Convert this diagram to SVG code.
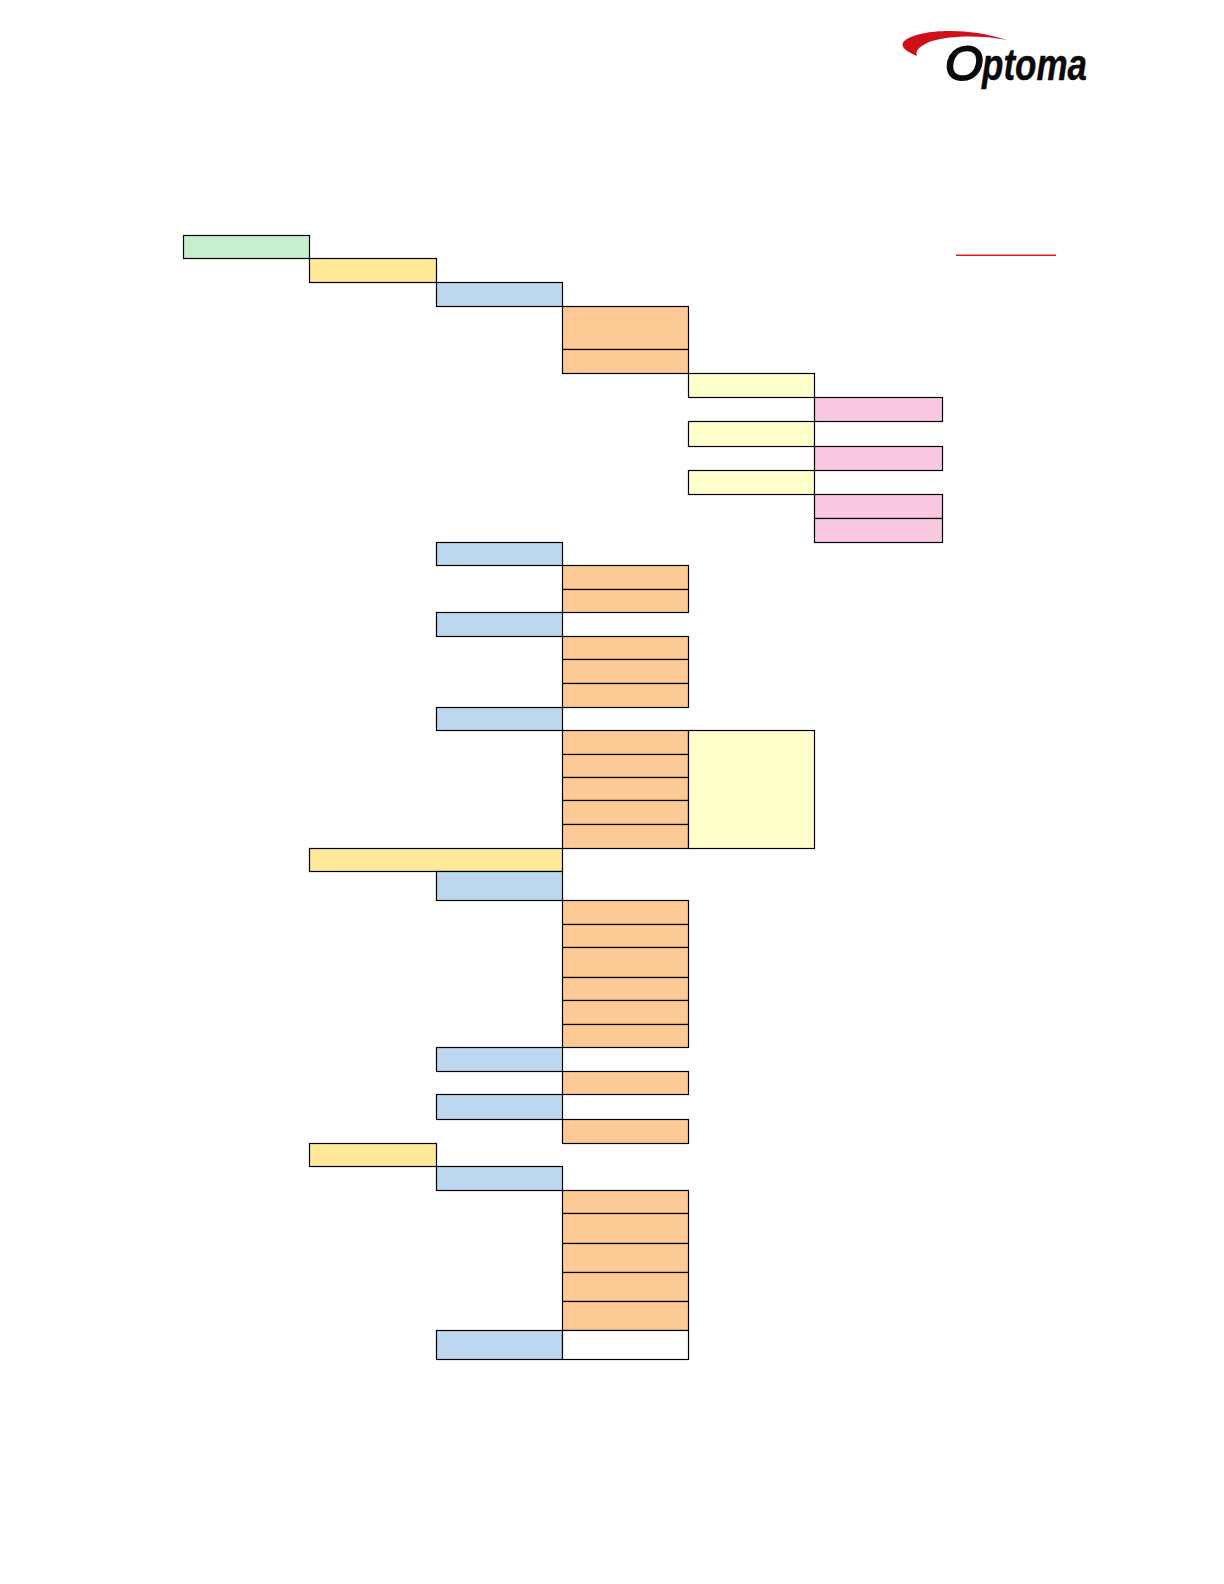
<svg xmlns="http://www.w3.org/2000/svg" width="1224" height="1584" viewBox="0 0 1224 1584">
<style>
rect{stroke:#000;stroke-width:1.2}
.gn{fill:#c6efce}.yl{fill:#ffe999}.bl{fill:#bdd7ee}.or{fill:#fdca96}.ly{fill:#ffffcc}.pk{fill:#f9c8e1}.wh{fill:#fff}
.logo{font-family:"Liberation Sans",Arial,sans-serif;font-style:italic;fill:#0a0a0a;stroke:#0a0a0a}
</style>
<rect x="0" y="0" width="1224" height="1584" style="fill:#fff;stroke:none"/>
<g id="logo">
<path d="M1006.700 40C985 33 965 30.500 946 31C925 31.500 908 36 903 42.500C900.500 47 907 52 917 56C914.500 50 921 45 932 41C952 35.500 980 35 1006.700 40Z" fill="#d01018"/>
<text class="logo" x="945" y="79.500" font-size="49" stroke-width="2">O</text>
<text class="logo" x="982" y="79.500" font-size="44" font-weight="700" stroke-width=".4" textLength="105" lengthAdjust="spacingAndGlyphs">ptoma</text>
</g>
<line id="red-rule" x1="956" y1="255.300" x2="1056" y2="255.300" stroke="#d9201c" stroke-width="1.4"/>
<g id="n1"><rect class="gn" x="183.500" y="235.500" width="126" height="23"/></g>
<g id="n2"><rect class="yl" x="309.500" y="258.500" width="127" height="24"/></g>
<g id="n3"><rect class="bl" x="436.500" y="282.500" width="126" height="24"/></g>
<g id="n4"><rect class="or" x="562.500" y="306.500" width="126" height="43"/></g>
<g id="n5"><rect class="or" x="562.500" y="349.500" width="126" height="24"/></g>
<g id="n6"><rect class="ly" x="688.500" y="373.500" width="126" height="24"/></g>
<g id="n7"><rect class="pk" x="814.500" y="397.500" width="128" height="24"/></g>
<g id="n8"><rect class="ly" x="688.500" y="421.500" width="126" height="25"/></g>
<g id="n9"><rect class="pk" x="814.500" y="446.500" width="128" height="24"/></g>
<g id="n10"><rect class="ly" x="688.500" y="470.500" width="126" height="24"/></g>
<g id="n11"><rect class="pk" x="814.500" y="494.500" width="128" height="24"/></g>
<g id="n12"><rect class="pk" x="814.500" y="518.500" width="128" height="24"/></g>
<g id="n13"><rect class="bl" x="436.500" y="542.500" width="126" height="23"/></g>
<g id="n14"><rect class="or" x="562.500" y="565.500" width="126" height="24"/></g>
<g id="n15"><rect class="or" x="562.500" y="589.500" width="126" height="23"/></g>
<g id="n16"><rect class="bl" x="436.500" y="612.500" width="126" height="24"/></g>
<g id="n17"><rect class="or" x="562.500" y="636.500" width="126" height="23"/></g>
<g id="n18"><rect class="or" x="562.500" y="659.500" width="126" height="24"/></g>
<g id="n19"><rect class="or" x="562.500" y="683.500" width="126" height="24"/></g>
<g id="n20"><rect class="bl" x="436.500" y="707.500" width="126" height="23"/></g>
<g id="n21"><rect class="or" x="562.500" y="730.500" width="126" height="24"/></g>
<g id="n22"><rect class="or" x="562.500" y="754.500" width="126" height="23"/></g>
<g id="n23"><rect class="or" x="562.500" y="777.500" width="126" height="23"/></g>
<g id="n24"><rect class="or" x="562.500" y="800.500" width="126" height="24"/></g>
<g id="n25"><rect class="or" x="562.500" y="824.500" width="126" height="24"/></g>
<g id="n26"><rect class="ly" x="688.500" y="730.500" width="126" height="118"/></g>
<g id="n27"><rect class="yl" x="309.500" y="848.500" width="253" height="23"/></g>
<g id="n28"><rect class="bl" x="436.500" y="871.500" width="126" height="29"/></g>
<g id="n29"><rect class="or" x="562.500" y="900.500" width="126" height="24"/></g>
<g id="n30"><rect class="or" x="562.500" y="924.500" width="126" height="23"/></g>
<g id="n31"><rect class="or" x="562.500" y="947.500" width="126" height="30"/></g>
<g id="n32"><rect class="or" x="562.500" y="977.500" width="126" height="23"/></g>
<g id="n33"><rect class="or" x="562.500" y="1000.500" width="126" height="24"/></g>
<g id="n34"><rect class="or" x="562.500" y="1024.500" width="126" height="23"/></g>
<g id="n35"><rect class="bl" x="436.500" y="1047.500" width="126" height="24"/></g>
<g id="n36"><rect class="or" x="562.500" y="1071.500" width="126" height="23"/></g>
<g id="n37"><rect class="bl" x="436.500" y="1094.500" width="126" height="25"/></g>
<g id="n38"><rect class="or" x="562.500" y="1119.500" width="126" height="24"/></g>
<g id="n39"><rect class="yl" x="309.500" y="1143.500" width="127" height="23"/></g>
<g id="n40"><rect class="bl" x="436.500" y="1166.500" width="126" height="24"/></g>
<g id="n41"><rect class="or" x="562.500" y="1190.500" width="126" height="23"/></g>
<g id="n42"><rect class="or" x="562.500" y="1213.500" width="126" height="30"/></g>
<g id="n43"><rect class="or" x="562.500" y="1243.500" width="126" height="29"/></g>
<g id="n44"><rect class="or" x="562.500" y="1272.500" width="126" height="29"/></g>
<g id="n45"><rect class="or" x="562.500" y="1301.500" width="126" height="29"/></g>
<g id="n46"><rect class="bl" x="436.500" y="1330.500" width="126" height="29"/></g>
<g id="n47"><rect class="wh" x="562.500" y="1330.500" width="126" height="29"/></g>
<g id="connectors"></g>
</svg>
